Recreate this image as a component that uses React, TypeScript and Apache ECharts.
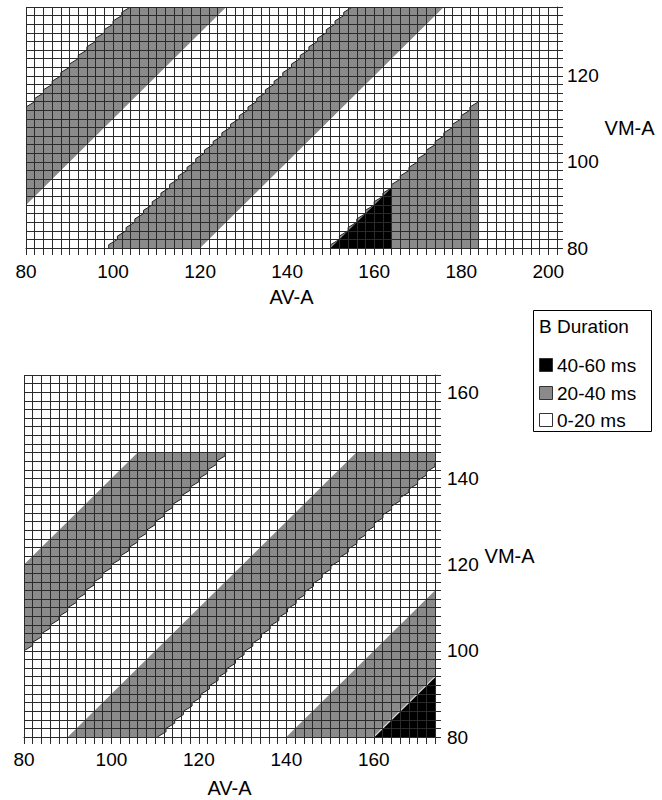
import React, { useEffect, useRef } from "react";
import * as echarts from "echarts";

// ---------- data (AV-A, VM-A) ----------
const durationClasses = ["40-60 ms", "20-40 ms", "0-20 ms"];

// axis extents
const topAVRange = [80, 202];
const topVMRange = [80, 136];
const bottomAVRange = [80, 174];
const bottomVMRange = [80, 164];

// tick steps (label step, grid cell step)
const labelStep = 20;
const cellStep = 2;

// top panel regions, vertices [AV, VM]
const topGrayBandUpper = [[80, 112], [104, 136], [126, 136], [80, 90]];
const topGrayBandMiddle = [[99, 80], [155, 136], [176, 136], [120, 80]];
const topGrayBandLower = [[150, 80], [184, 114], [184, 80]];
const topBlackTriangle = [[150, 80], [164, 94], [164, 80]];
const topRegions = [topGrayBandUpper, topGrayBandMiddle, topGrayBandLower, topBlackTriangle];
const topRegionClass = ["20-40 ms", "20-40 ms", "20-40 ms", "40-60 ms"];

// bottom panel regions
const bottomGrayBandUpper = [[80, 120], [106, 146], [126, 146], [80, 100]];
const bottomGrayBandMiddle = [[90, 80], [156, 146], [174, 146], [174, 143.5], [110.5, 80]];
const bottomGrayBandLower = [[140, 80], [174, 114], [174, 80]];
const bottomBlackTriangle = [[160, 80], [174, 94], [174, 80]];
const bottomRegions = [bottomGrayBandUpper, bottomGrayBandMiddle, bottomGrayBandLower, bottomBlackTriangle];
const bottomRegionClass = ["20-40 ms", "20-40 ms", "20-40 ms", "40-60 ms"];

// ---------- styles ----------
const FONT = "'Liberation Sans', Arial, Helvetica, sans-serif";
const classColor: Record<string, string> = {
  "40-60 ms": "#000000",
  "20-40 ms": "#8a8a8a",
  "0-20 ms": "#ffffff",
};
// which polygon edge is drawn as a raster staircase (-1 none)
const topStairEdges = [0, 0, 0, -1];
const bottomStairEdges = [2, 3, -1, -1];
// thin highlight edges (edge index, color)
const topEdgeHighlight: (null | [number, string])[] = [null, null, null, null];
const bottomEdgeHighlight: (null | [number, string])[] = [null, null, null, [0, "#d8d8d8"]];
const GRID_COLOR = "#2a2a2a";

function makeRenderItem(
  regions: number[][][],
  classes: string[],
  stairEdges: number[],
  highlights: (null | [number, string])[]
) {
  return (params: any, api: any) => {
    const i = params.dataIndex;
    const verts: number[][] = regions[i].map((v) => api.coord(v));
    const cell = api.size([cellStep, cellStep]);
    const cx = verts.reduce((s, p) => s + p[0], 0) / verts.length;
    const cy = verts.reduce((s, p) => s + p[1], 0) / verts.length;
    const fill: number[][] = [];
    let stair: number[][] | null = null;
    for (let k = 0; k < verts.length; k++) {
      const A = verts[k];
      const B = verts[(k + 1) % verts.length];
      if (k === stairEdges[i]) {
        const ex = B[0] - A[0];
        const ey = B[1] - A[1];
        const crossC = ex * (cy - A[1]) - ey * (cx - A[0]);
        const j = cell[1] * 0.38;
        const off = -Math.sign(crossC) * Math.sign(ex) * j;
        const n = Math.max(1, Math.round(Math.abs(ey) / cell[1]));
        stair = [];
        for (let s = 0; s < n; s++) {
          const a = [A[0] + (ex * s) / n, A[1] + (ey * s) / n];
          const t = [a[0], a[1] + off];
          fill.push(a, t);
          stair.push(a, t);
        }
        stair.push(B);
      } else {
        fill.push(A);
      }
    }
    const children: any[] = [
      {
        type: "polygon",
        shape: { points: fill },
        style: { fill: classColor[classes[i]], stroke: null },
      },
    ];
    if (stair) {
      children.push({
        type: "polyline",
        shape: { points: stair },
        style: { fill: null, stroke: "#222", lineWidth: 1 },
      });
    }
    const h = highlights[i];
    if (h) {
      const A = verts[h[0]];
      const B = verts[(h[0] + 1) % verts.length];
      children.push({
        type: "line",
        shape: { x1: A[0], y1: A[1], x2: B[0], y2: B[1] },
        style: { stroke: h[1], lineWidth: 1.2 },
      });
    }
    return { type: "group", children };
  };
}

function labelAxis(gridIndex: number, range: number[], isX: boolean, margin: number, nameGap: number) {
  return {
    gridIndex,
    type: "value",
    min: range[0],
    max: range[1],
    interval: labelStep,
    position: isX ? "bottom" : "right",
    axisLine: { show: false },
    axisTick: { show: false },
    splitLine: { show: false },
    axisLabel: {
      show: true,
      margin,
      showMaxLabel: false,
      fontFamily: FONT,
      fontSize: 19,
      color: "#000",
    },
    name: isX ? "AV-A" : "VM-A",
    nameLocation: "middle",
    nameGap,
    nameRotate: 0,
    nameTextStyle: { fontFamily: FONT, fontSize: 20, color: "#000" },
  };
}

function gridAxis(gridIndex: number, range: number[], isX: boolean) {
  return {
    gridIndex,
    type: "value",
    min: range[0],
    max: range[1],
    interval: cellStep,
    position: isX ? "bottom" : "right",
    z: 5,
    axisLine: { show: true, lineStyle: { color: GRID_COLOR, width: 1 } },
    axisTick: { show: true, length: isX ? 7 : 6, lineStyle: { color: GRID_COLOR, width: 1 } },
    axisLabel: { show: false },
    splitLine: { show: true, lineStyle: { color: GRID_COLOR, width: 1 } },
  };
}

export default function App() {
  const ref = useRef<HTMLDivElement>(null);
  useEffect(() => {
    if (!ref.current) return;
    const chart = echarts.init(ref.current, null, { renderer: "svg" });
    const legendX = 539;
    const legendRows = [365, 393, 420];
    const option: any = {
      animation: false,
      backgroundColor: "#fff",
      grid: [
        { left: 26, top: 7, width: 531, height: 241 },
        { left: 24, top: 375, width: 411, height: 362 },
      ],
      xAxis: [
        labelAxis(0, topAVRange, true, 14, 39),
        gridAxis(0, topAVRange, true),
        labelAxis(1, bottomAVRange, true, 13, 41),
        gridAxis(1, bottomAVRange, true),
      ],
      yAxis: [
        labelAxis(0, topVMRange, false, 10, 45),
        gridAxis(0, topVMRange, false),
        labelAxis(1, bottomVMRange, false, 12, 48),
        gridAxis(1, bottomVMRange, false),
      ],
      series: [
        {
          type: "custom",
          xAxisIndex: 0,
          yAxisIndex: 0,
          clip: true,
          z: 1,
          renderItem: makeRenderItem(topRegions, topRegionClass, topStairEdges, topEdgeHighlight),
          data: topRegions.map((r) => r[0]),
        },
        {
          type: "custom",
          xAxisIndex: 2,
          yAxisIndex: 2,
          clip: true,
          z: 1,
          renderItem: makeRenderItem(bottomRegions, bottomRegionClass, bottomStairEdges, bottomEdgeHighlight),
          data: bottomRegions.map((r) => r[0]),
        },
      ],
      graphic: [
        {
          type: "rect",
          shape: { x: 533.5, y: 310.5, width: 118, height: 121 },
          style: { fill: "#fff", stroke: "#000", lineWidth: 1 },
        },
        {
          type: "text",
          x: legendX,
          y: 326,
          style: {
            text: "B Duration",
            fontFamily: FONT,
            fontSize: 19,
            fill: "#000",
            verticalAlign: "middle",
            align: "left",
          },
        },
        ...durationClasses.flatMap((c, k) => [
          {
            type: "rect",
            shape: { x: legendX + 0.5, y: legendRows[k] - 6.5, width: 13, height: 13 },
            style: { fill: classColor[c], stroke: "#333", lineWidth: 1 },
          },
          {
            type: "text",
            x: legendX + 18,
            y: legendRows[k],
            style: {
              text: c,
              fontFamily: FONT,
              fontSize: 19,
              fill: "#000",
              verticalAlign: "middle",
              align: "left",
            },
          },
        ]),
      ],
    };
    chart.setOption(option);
    return () => chart.dispose();
  }, []);
  return (
    <div
      ref={ref}
      style={{ position: "absolute", left: 0, top: 0, width: 662, height: 800 }}
    />
  );
}
